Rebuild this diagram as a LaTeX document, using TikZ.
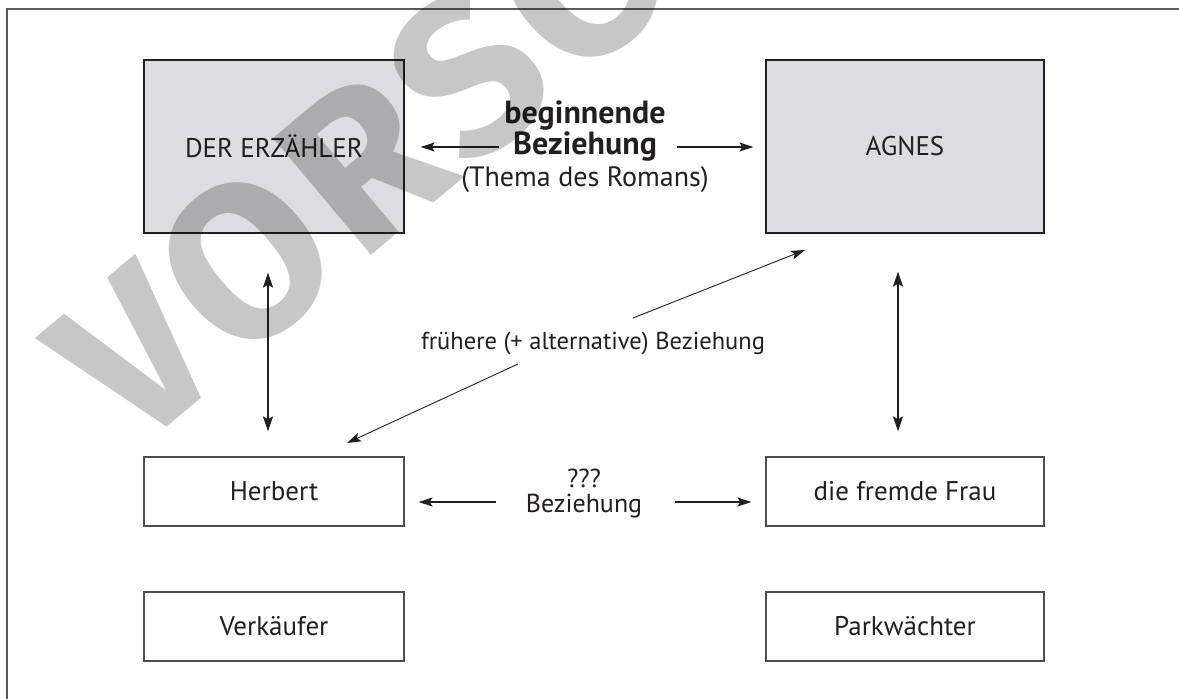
\documentclass[tikz,border=0pt]{standalone}
\usepackage{fontspec}
\setmainfont{PT Sans}
\newfontfamily\stempel[LetterSpace=4]{Fira Sans}
\usetikzlibrary{arrows.meta,positioning}
\definecolor{boxgrau}{RGB}{220,221,224}
\definecolor{tinte}{RGB}{35,31,32}
\definecolor{rahmen}{RGB}{90,90,90}

\begin{document}
\begin{tikzpicture}[x=1pt,y=-1pt,
		font=\fontsize{27}{32}\selectfont,
		person/.style={draw=tinte,line width=1.2pt,fill=boxgrau,minimum width=260pt,minimum height=173pt,inner sep=0pt,text=tinte},
		rolle/.style={draw=tinte!80,line width=1.2pt,minimum width=260pt,minimum height=69pt,inner sep=0pt,text=tinte},
		etikett/.style={inner sep=0pt,text=tinte},
		fett/.style={etikett,font=\fontsize{32}{36}\selectfont\bfseries},
		pfeil/.style={-{Stealth[length=14pt,width=9pt,inset=3pt]},line width=1.1pt,draw=tinte},
		doppelpfeil/.style={{Stealth[length=15pt,width=10pt,inset=3pt]}-{Stealth[length=15pt,width=10pt,inset=3pt]},line width=2pt,draw=tinte},
		scale=1]
		\useasboundingbox (0,0) rectangle (1179,699);
		% Draw frame
		\draw[rahmen,line width=1.5pt] (1179,9) -- (7,9) -- (7,699);
		
		% Persons
		\node[person] (erzaehler) at (274,146.5) {DER ERZÄHLER};
		\node[person,minimum width=278pt] (agnes) at (905,146.5) {AGNES};
		\node[rolle] (herbert) at (274,491.5) {Herbert};
		\node[rolle] (verkaeufer) at (274,626.5) {Verkäufer};
		\node[rolle,minimum width=278pt] (frau) at (905,491.5) {die fremde Frau};
		\node[rolle,minimum width=278pt] (parkwaechter) at (905,626.5) {Parkwächter};
		
		% Labels
		\node[fett] (beginn) at (585,116) {beginnende};
		\node[fett] (bez) at (585,147) {Beziehung};
		\node[etikett,font=\fontsize{28}{32}\selectfont] (thema) at (585,180) {(Thema des Romans)};
		\node[etikett,font=\fontsize{24.5}{28}\selectfont] (frueher) at (593,343) {frühere (+ alternative) Beziehung};
		\node[etikett,font=\fontsize{26}{30}\selectfont] (fragen) at (584,478) {???};
		\node[etikett,font=\fontsize{26}{30}\selectfont] (unbek) at (584,506) {Beziehung};
		
		\coordinate (fa) at (633,318);
		\coordinate (fb) at (805,250);
		\coordinate (fc) at (518,364);
		\coordinate (fd) at (347,443);
		
		% Arrows
		\draw[pfeil,shorten <=14pt,shorten >=16pt] (bez.west) -- (erzaehler.east |- bez.west);
		\draw[pfeil,shorten <=20pt,shorten >=12pt] (bez.east) -- (agnes.west |- bez.east);
		\draw[doppelpfeil,shorten <=39pt,shorten >=25pt] ([xshift=-6pt]erzaehler.south) -- ([xshift=-6pt]herbert.north);
		\draw[doppelpfeil,shorten <=38pt,shorten >=25pt] ([xshift=-7pt]agnes.south) -- ([xshift=-7pt]frau.north);
		\draw[pfeil,line width=0.9pt] (fa) -- (fb);
		\draw[pfeil,line width=0.9pt] (fc) -- (fd);
		\draw[pfeil,shorten <=30pt,shorten >=14pt] ([yshift=4pt]unbek.west) -- ([yshift=4pt]herbert.east |- unbek.west);
		\draw[pfeil,shorten <=33pt,shorten >=14pt] ([yshift=4pt]unbek.east) -- ([yshift=4pt]frau.west |- unbek.east);
		
		% Watermark
		\begin{scope}
			\clip (0,0) rectangle (1179,699);
			\node[rotate=40,anchor=base west,inner sep=0pt,opacity=0.22,font=\stempel\fontsize{220}{220}\selectfont\bfseries] (vorschau) at (135,454) {VORSCHAU};
		\end{scope}
\end{tikzpicture}
\end{document}
